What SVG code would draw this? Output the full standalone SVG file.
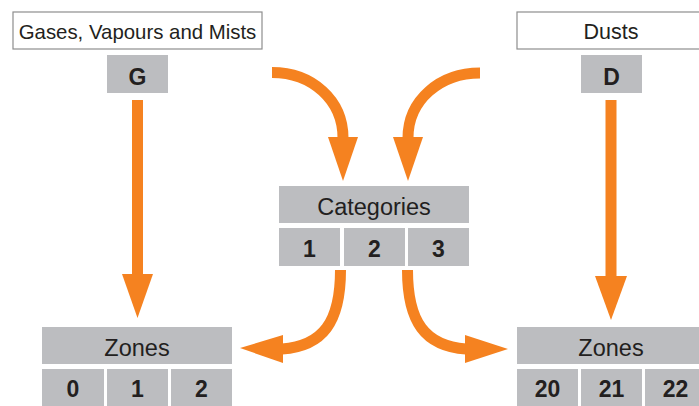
<svg xmlns="http://www.w3.org/2000/svg" width="699" height="406" viewBox="0 0 699 406">
<style>
.lbl{font-family:"Liberation Sans",Arial,sans-serif;font-size:23.5px;fill:#231f20;text-anchor:middle}
.top{font-family:"Liberation Sans",Arial,sans-serif;font-size:20.4px;fill:#231f20;text-anchor:middle}
.num{font-family:"Liberation Sans",Arial,sans-serif;font-size:23px;font-weight:bold;fill:#231f20;text-anchor:middle}
.box{fill:#bcbdc0}
.outline{fill:#ffffff;stroke:#8e8e8e;stroke-width:1.2}
.shaft{fill:none;stroke:#f58220;stroke-width:11}
.head{fill:#f58220}
</style>
<rect width="699" height="406" fill="#ffffff"/>
<g id="gases">
<rect class="outline" x="13" y="12" width="249" height="37"/>
<text class="top" x="137.5" y="39">Gases, Vapours and Mists</text>
</g>
<g id="G">
<rect class="box" x="107" y="55" width="61" height="38"/>
<text class="num" x="137.5" y="85">G</text>
</g>
<g id="dusts">
<rect class="outline" x="517" y="12" width="190" height="37"/>
<text class="top" x="611" y="39" style="font-size:21.5px">Dusts</text>
</g>
<g id="D">
<rect class="box" x="581" y="55" width="61" height="38"/>
<text class="num" x="611.5" y="85">D</text>
</g>
<g id="categories">
<rect class="box" x="279" y="186" width="190" height="37"/>
<text class="lbl" x="374" y="215">Categories</text>
<rect class="box" x="279" y="228" width="61" height="38"/>
<rect class="box" x="344" y="228" width="61" height="38"/>
<rect class="box" x="408" y="228" width="61" height="38"/>
<text class="num" x="309.5" y="257">1</text>
<text class="num" x="374.5" y="257">2</text>
<text class="num" x="438.5" y="257">3</text>
</g>
<g id="zones-left">
<rect class="box" x="42" y="327" width="190" height="37"/>
<text class="lbl" x="137" y="356">Zones</text>
<rect class="box" x="42" y="369" width="62" height="40"/>
<rect class="box" x="107" y="369" width="61" height="40"/>
<rect class="box" x="171" y="369" width="61" height="40"/>
<text class="num" x="73" y="397">0</text>
<text class="num" x="137.5" y="397">1</text>
<text class="num" x="201.5" y="397">2</text>
</g>
<g id="zones-right">
<rect class="box" x="517" y="327" width="190" height="37"/>
<text class="lbl" x="611" y="356">Zones</text>
<rect class="box" x="517" y="369" width="61" height="40"/>
<rect class="box" x="581" y="369" width="61" height="40"/>
<rect class="box" x="645" y="369" width="61" height="40"/>
<text class="num" x="547.5" y="397">20</text>
<text class="num" x="611.5" y="397">21</text>
<text class="num" x="675.5" y="397">22</text>
</g>
<g id="connectors">
<path class="shaft" d="M137.5,100 V275"/>
<polygon class="head" points="122,274 153,274 137.5,318"/>
<path class="shaft" d="M611,100 V277"/>
<polygon class="head" points="595,276 627,276 611,320"/>
<path class="shaft" d="M272,72.5 C312,72.5 343,100 343,138"/>
<polygon class="head" points="328,137 358,137 343,181"/>
<path class="shaft" d="M480,73 C440,73 408,100 408,138"/>
<polygon class="head" points="393,137 423,137 408,181"/>
<path class="shaft" d="M340.5,270 C340.5,322 323,346 282,349"/>
<polygon class="head" points="283,335 283,363 240,348"/>
<path class="shaft" d="M407.5,270 C407.5,322 425,346 466,349"/>
<polygon class="head" points="465,335 465,363 508,349"/>
</g>
</svg>
